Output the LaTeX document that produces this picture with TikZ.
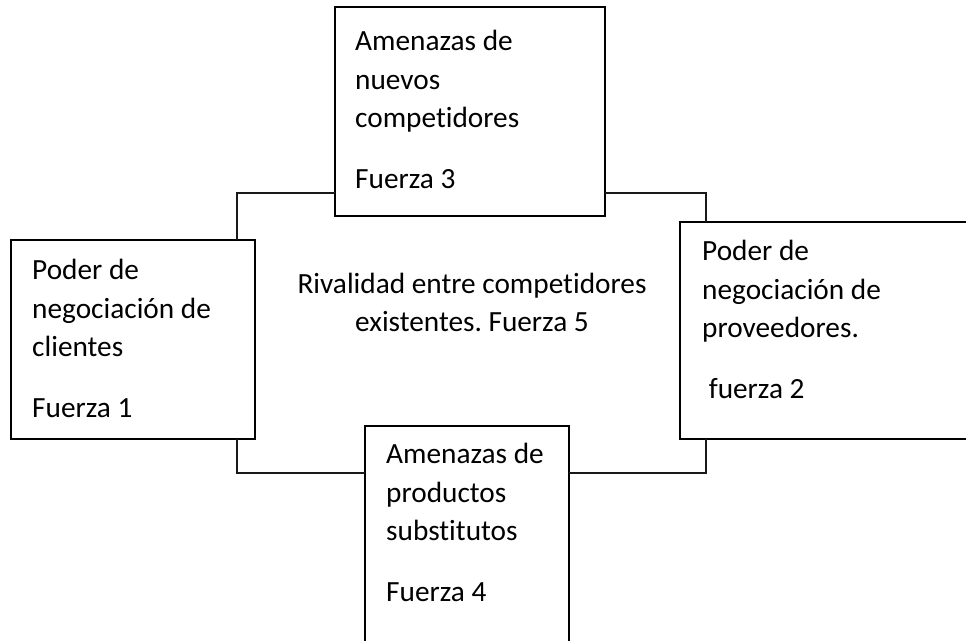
\documentclass[tikz,border=0pt]{standalone}
\usepackage{fontspec}
\setmainfont[Ligatures={NoCommon}]{Carlito}
\frenchspacing
\begin{document}
\begin{tikzpicture}[x=1pt,y=-1pt,
  box/.style={draw=black,line width=2pt,anchor=north west,inner sep=0pt,outer sep=0pt},
  txt/.style={anchor=north west,inner sep=0pt,align=left,font=\fontsize{29.3}{38.5}\selectfont},
  ctxt/.style={anchor=north,inner sep=0pt,align=center,font=\fontsize{29.3}{38}\selectfont},
  link/.style={draw=black!90,line width=1.6pt}]
\clip (0,0) rectangle (966,640);
% boxes
\node[box,minimum width=270pt,minimum height=209pt] (T) at (335,7) {};
\node[box,minimum width=244pt,minimum height=199pt] (L) at (11,240) {};
\node[box,minimum width=300pt,minimum height=217pt] (R) at (680,222) {};
\node[box,minimum width=204pt,minimum height=240pt] (B) at (365,426) {};
% texts
\node[txt] (Tt) at (355,30) {Amenazas de\\nuevos\\competidores\\[22pt]Fuerza 3};
\node[txt] (Lt) at (32,259) {Poder de\\negociación de\\clientes\\[22pt]Fuerza 1};
\node[txt] (Rt) at (702,240) {Poder de\\negociación de\\proveedores.\\[22pt]\hspace*{0.226em}fuerza 2};
\node[txt] (Bt) at (386,443) {Amenazas de\\productos\\substitutos\\[22pt]Fuerza 4};
\node[ctxt] (C) at (472,273) {Rivalidad entre competidores\\existentes. Fuerza 5};
% elbows
\coordinate (e1) at (237,193);
\coordinate (e2) at (706,193);
\coordinate (e3) at (237,473);
\coordinate (e4) at (706,473);
% connectors
\draw[link] (L.north -| e1) |- (T.west |- e1);
\draw[link] (T.east |- e2) -| (R.north -| e2);
\draw[link] (L.south -| e3) |- (B.west |- e3);
\draw[link] (R.south -| e4) |- (B.east |- e4);
\end{tikzpicture}
\end{document}
